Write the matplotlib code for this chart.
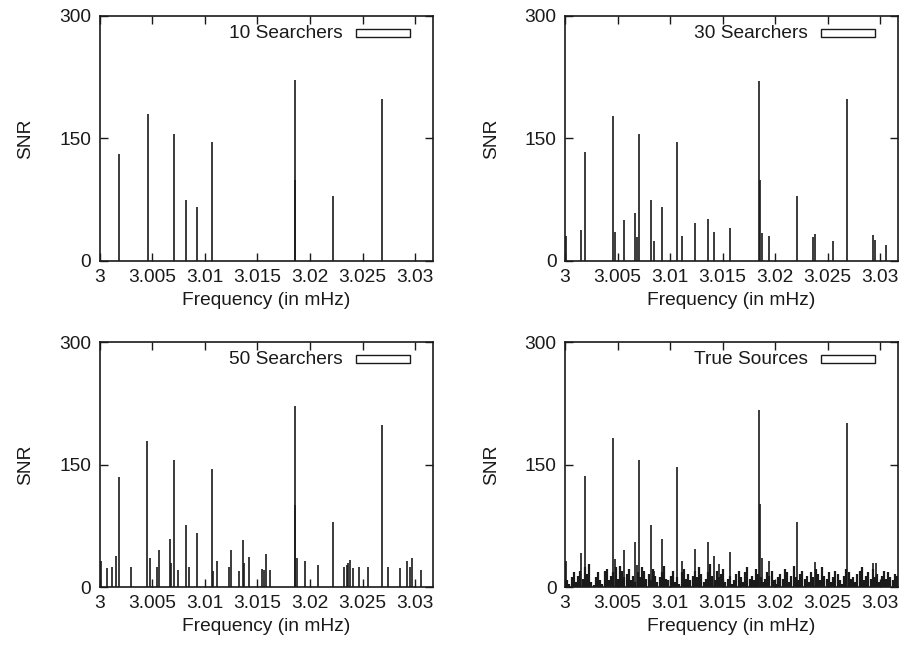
import numpy as np
import matplotlib

matplotlib.use("Agg")
import matplotlib.pyplot as plt
from matplotlib.patches import Rectangle

plt.rcParams["font.family"] = ["Liberation Sans", "DejaVu Sans"]

OUT = "out.png"
FS = 13.8
INK = "#1a1a1a"
XTICKS = [3.0, 3.005, 3.01, 3.015, 3.02, 3.025, 3.03]
XTICK_LABELS = ["3", "3.005", "3.01", "3.015", "3.02", "3.025", "3.03"]
YTICKS = [0, 150, 300]

# 10 searchers
f10 = [3.00188, 3.00458, 3.00711, 3.00822, 3.00924, 3.01066, 3.01855, 3.01858,
       3.02217, 3.02685]
s10 = [131, 180, 155, 75, 66, 146, 222, 99, 79, 198]

# 30 searchers
f30 = [3.0001, 3.00149, 3.0019, 3.00456, 3.00472, 3.00563, 3.00671, 3.00684,
       3.00709, 3.0082, 3.00851, 3.00921, 3.0107, 3.01111, 3.0124, 3.01358,
       3.01421, 3.01573, 3.01848, 3.01858, 3.01873, 3.01946, 3.02212, 3.02358,
       3.0238, 3.02547, 3.02684, 3.02927, 3.02949, 3.03057]
s30 = [31, 38, 134, 178, 35, 50, 59, 29, 155, 75, 25, 66, 146, 31, 46, 51,
       36, 40, 221, 99, 34, 31, 80, 29, 33, 24, 198, 32, 26, 20]

# 50 searchers
f50 = [3.00016, 3.00073, 3.00123, 3.00152, 3.0019, 3.00297, 3.00456, 3.00478,
       3.00551, 3.00566, 3.00671, 3.00684, 3.00712, 3.00747, 3.00823, 3.00851,
       3.00924, 3.01066, 3.01082, 3.01114, 3.01228, 3.01247, 3.01326, 3.01361,
       3.01373, 3.01424, 3.01541, 3.0156, 3.01579, 3.01617, 3.01854, 3.0186,
       3.0188, 3.01949, 3.02073, 3.02215, 3.02323, 3.02351, 3.02364, 3.0238,
       3.02408, 3.02468, 3.02551, 3.02687, 3.02747, 3.02854, 3.02927, 3.02956,
       3.02975, 3.0306]
s50 = [32, 23, 25, 38, 135, 24, 179, 35, 24, 45, 59, 29, 156, 21, 76, 25,
       66, 145, 20, 32, 25, 45, 20, 57, 30, 37, 22, 21, 41, 21, 222, 101,
       35, 32, 27, 80, 24, 27, 29, 33, 23, 25, 24, 198, 24, 23, 32, 25,
       35, 21]

# true sources: strong lines plus the noise floor
ftrue = [3.0001, 3.00149, 3.0019, 3.00456, 3.00472, 3.00563, 3.00671, 3.00684,
         3.00709, 3.0082, 3.00851, 3.00921, 3.0107, 3.01111, 3.0124, 3.01358,
         3.01421, 3.01462, 3.01573, 3.01848, 3.01858, 3.01873, 3.01946, 3.02212,
         3.0238, 3.02684, 3.02927, 3.02965]
strue = [32, 42, 136, 183, 34, 45, 55, 27, 156, 76, 20, 59, 147, 32, 46, 55,
         38, 28, 43, 217, 102, 35, 32, 80, 31, 201, 30, 30]
noise = [
    30, 8, 4, 12, 18, 6, 14, 20, 10, 24, 16, 28,
    6, 3, 12, 18, 9, 4, 20, 22, 8, 14, 18, 24,
    10, 26, 20, 12, 16, 22, 8, 14, 6, 18, 12, 24,
    20, 10, 16, 8, 22, 14, 6, 12, 18, 26, 10, 8,
    14, 20, 6, 12, 4, 18, 22, 10, 16, 8, 14, 20,
    12, 24, 16, 6, 10, 18, 28, 14, 8, 20, 12, 16,
    22, 6, 10, 14, 4, 8, 16, 20, 12, 6, 18, 24,
    10, 14, 8, 22, 16, 12, 6, 10, 18, 14, 20, 8,
    4, 12, 16, 10, 22, 18, 6, 14, 26, 12, 8, 16,
    20, 10, 14, 6, 18, 12, 22, 16, 8, 24, 14, 10,
    18, 6, 12, 20, 16, 8, 4, 14, 22, 18, 10, 12,
    6, 16, 20, 24, 8, 14, 18, 10, 22, 12, 16, 6,
    14, 20, 10, 18, 12, 8, 16, 14,
]
fnoise = np.linspace(3.0, 3.0316, len(noise))

panels = [
    ("10 Searchers", f10, s10),
    ("30 Searchers", f30, s30),
    ("50 Searchers", f50, s50),
    ("True Sources", ftrue, strue),
]

fig = plt.figure(figsize=(9.03, 6.47), dpi=100)
rects = [
    [0.1102, 0.5966, 0.3693, 0.3787],
    [0.6257, 0.5966, 0.3688, 0.3787],
    [0.1102, 0.0927, 0.3693, 0.3787],
    [0.6257, 0.0927, 0.3688, 0.3787],
]

for k, (name, fr, snr) in enumerate(panels):
    ax = fig.add_axes(rects[k])
    if k == 3:
        ax.vlines(fnoise, 0, noise, color=INK, lw=1.6)
    ax.vlines(fr, 0, snr, color=INK, lw=1.2)
    ax.set_xlim(3.0, 3.0317)
    ax.set_ylim(0, 300)
    ax.set_xticks(XTICKS)
    ax.set_xticklabels(XTICK_LABELS)
    ax.set_yticks(YTICKS)
    ax.tick_params(direction="in", length=6, width=1.0, top=True, right=True,
                   labelsize=FS, pad=6, colors=INK)
    for side in ax.spines.values():
        side.set_linewidth(1.2)
        side.set_color(INK)
    ax.set_xlabel("Frequency (in mHz)", fontsize=FS, color=INK, labelpad=4)
    ax.set_ylabel("SNR", fontsize=FS, color=INK, labelpad=18)
    # gnuplot-style key: label and an empty box
    ax.text(0.730, 0.928, name, transform=ax.transAxes, ha="right", va="center",
            fontsize=FS, color=INK)
    ax.add_patch(Rectangle((0.768, 0.914), 0.163, 0.033, transform=ax.transAxes,
                           facecolor="white", edgecolor=INK, lw=1.0))

fig.savefig(OUT, dpi=100)
